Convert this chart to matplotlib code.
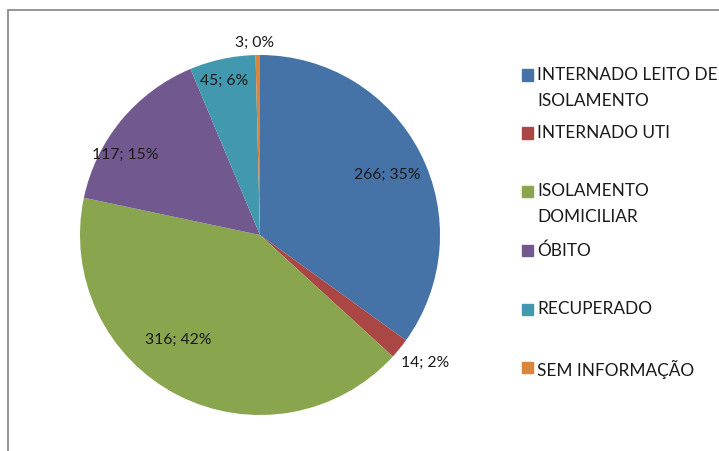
import numpy as np
import matplotlib.pyplot as plt
from matplotlib.patches import Rectangle

categories = ["INTERNADO LEITO DE\nISOLAMENTO", "INTERNADO UTI", "ISOLAMENTO\nDOMICILIAR",
              "ÓBITO", "RECUPERADO", "SEM INFORMAÇÃO"]
values = [266, 14, 316, 117, 45, 3]
colors = ["#4572A7", "#AA4643", "#89A54E", "#71588F", "#4198AF", "#DB843D"]

# label placement (radius fraction, angle in degrees) - layout only
label_r = [0.78, 1.16, 0.74, 0.87, 0.88, 1.07]
label_ang = [25.3, -37.6, -128.0, 149.4, 103.0, 91.5]

# legend rows (pixel y from top of figure)
legend_y = [75, 133, 191, 250, 309, 367]

plt.rcParams['font.family'] = ['Lato', 'DejaVu Sans']

W, H = 719, 451
fig = plt.figure(figsize=(W / 100, H / 100), dpi=100)

ax = fig.add_axes([80 / W, 36 / H, 360 / W, 360 / H])
ax.pie(values, colors=colors, startangle=90, counterclock=False, radius=1)
ax.set_xlim(-1, 1)
ax.set_ylim(-1, 1)
ax.set_aspect('equal')
ax.axis('off')

total = sum(values)
for v, r, a in zip(values, label_r, label_ang):
    pct = round(v / total * 100)
    x = r * np.cos(np.radians(a))
    y = r * np.sin(np.radians(a))
    ax.text(x, y, f"{v}; {pct}%", ha='center', va='center', fontsize=11.3, color='#1a1a1a')

# legend drawn by hand to mimic Excel wrapping
for cat, col, yy in zip(categories, colors, legend_y):
    fig.add_artist(Rectangle((522 / W, 1 - (yy + 5.5) / H), 11 / W, 11 / H,
                             transform=fig.transFigure, color=col))
    fig.text(537 / W, 1 - (yy - 7.5) / H, cat, ha='left', va='top', fontsize=12.4,
             color='#1a1a1a', linespacing=1.7)

# chart frame (open to right and bottom as in the crop)
fig.add_artist(Rectangle((8 / W, -0.1), 1.1, 1 - 10 / H + 0.1, transform=fig.transFigure,
                         fill=False, edgecolor='#8c8c8c', linewidth=1.3))

fig.savefig("out.png", dpi=100)
